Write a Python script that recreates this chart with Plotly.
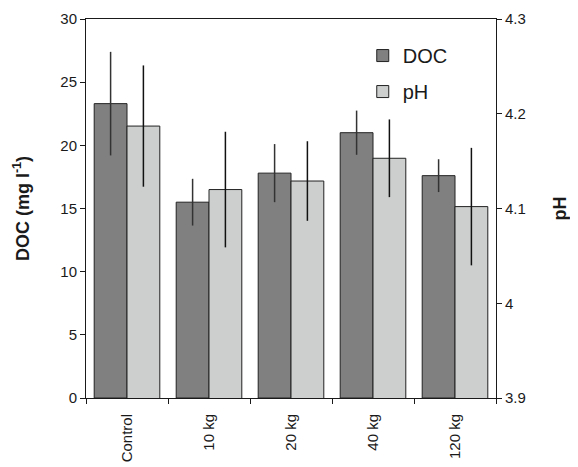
import plotly.graph_objects as go

categories = ["Control", "10 kg", "20 kg", "40 kg", "120 kg"]
doc_values = [23.3, 15.5, 17.8, 21.0, 17.6]
doc_errors = [4.1, 1.85, 2.3, 1.75, 1.3]
ph_values = [4.187, 4.12, 4.129, 4.153, 4.102]
ph_errors = [0.064, 0.061, 0.042, 0.041, 0.062]

doc_ticks = [0, 5, 10, 15, 20, 25, 30]
ph_ticks = [3.9, 4.0, 4.1, 4.2, 4.3]
ph_ticklabels = ["3.9", "4", "4.1", "4.2", "4.3"]

FONT = "Liberation Sans, Arial, sans-serif"

fig = go.Figure()
fig.add_trace(go.Bar(
    x=categories, y=doc_values, name="DOC", yaxis="y", offsetgroup="1",
    legendgroup="doc",
    marker=dict(color="#808080", line=dict(color="#222222", width=1)),
    error_y=dict(type="data", array=doc_errors, visible=True, width=0,
                 thickness=1.5, color="#333333"),
))
fig.add_trace(go.Bar(
    x=categories, y=ph_values, name="pH", yaxis="y2", offsetgroup="2",
    legendgroup="ph",
    marker=dict(color="#cdcfce", line=dict(color="#222222", width=1)),
    error_y=dict(type="data", array=ph_errors, visible=True, width=0,
                 thickness=1.5, color="#111111"),
))

fig.update_layout(
    width=570, height=459,
    margin=dict(l=78, r=82, t=11, b=69),
    paper_bgcolor="white", plot_bgcolor="white",
    barmode="group", bargap=0.2, bargroupgap=0,
    font=dict(family=FONT, size=15, color="#1a1a1a"),
    showlegend=True,
    legend=dict(x=0.675, y=0.955, xanchor="left", yanchor="top",
                font=dict(size=20), bgcolor="rgba(0,0,0,0)",
                tracegroupgap=7, itemwidth=30),
    xaxis=dict(
        type="category", showline=True, linecolor="#1a1a1a", linewidth=1,
        mirror=True, ticks="outside", ticklen=5, tickcolor="#1a1a1a",
        tickson="boundaries", tickangle=-90, showgrid=False,
        tickfont=dict(size=15), ticklabelstandoff=9, automargin=False,
    ),
    yaxis=dict(
        range=[0, 30], tickvals=doc_ticks, showline=True, linecolor="#1a1a1a",
        linewidth=1, ticks="outside", ticklen=5, tickcolor="#1a1a1a",
        showgrid=False, zeroline=False, tickfont=dict(size=15),
        automargin=False,
        title=dict(text="<b>DOC (mg l<sup>-1</sup>)</b>", font=dict(size=18),
                   standoff=26),
    ),
    yaxis2=dict(
        range=[3.9, 4.3], tickvals=ph_ticks, ticktext=ph_ticklabels,
        overlaying="y", side="right", showline=True, linecolor="#1a1a1a",
        linewidth=1, ticks="outside", ticklen=5, tickcolor="#1a1a1a",
        showgrid=False, zeroline=False, tickfont=dict(size=15),
        automargin=False,
        title=dict(text="<b>pH</b>", font=dict(size=18), standoff=28),
    ),
)

fig.write_html("out.html")
